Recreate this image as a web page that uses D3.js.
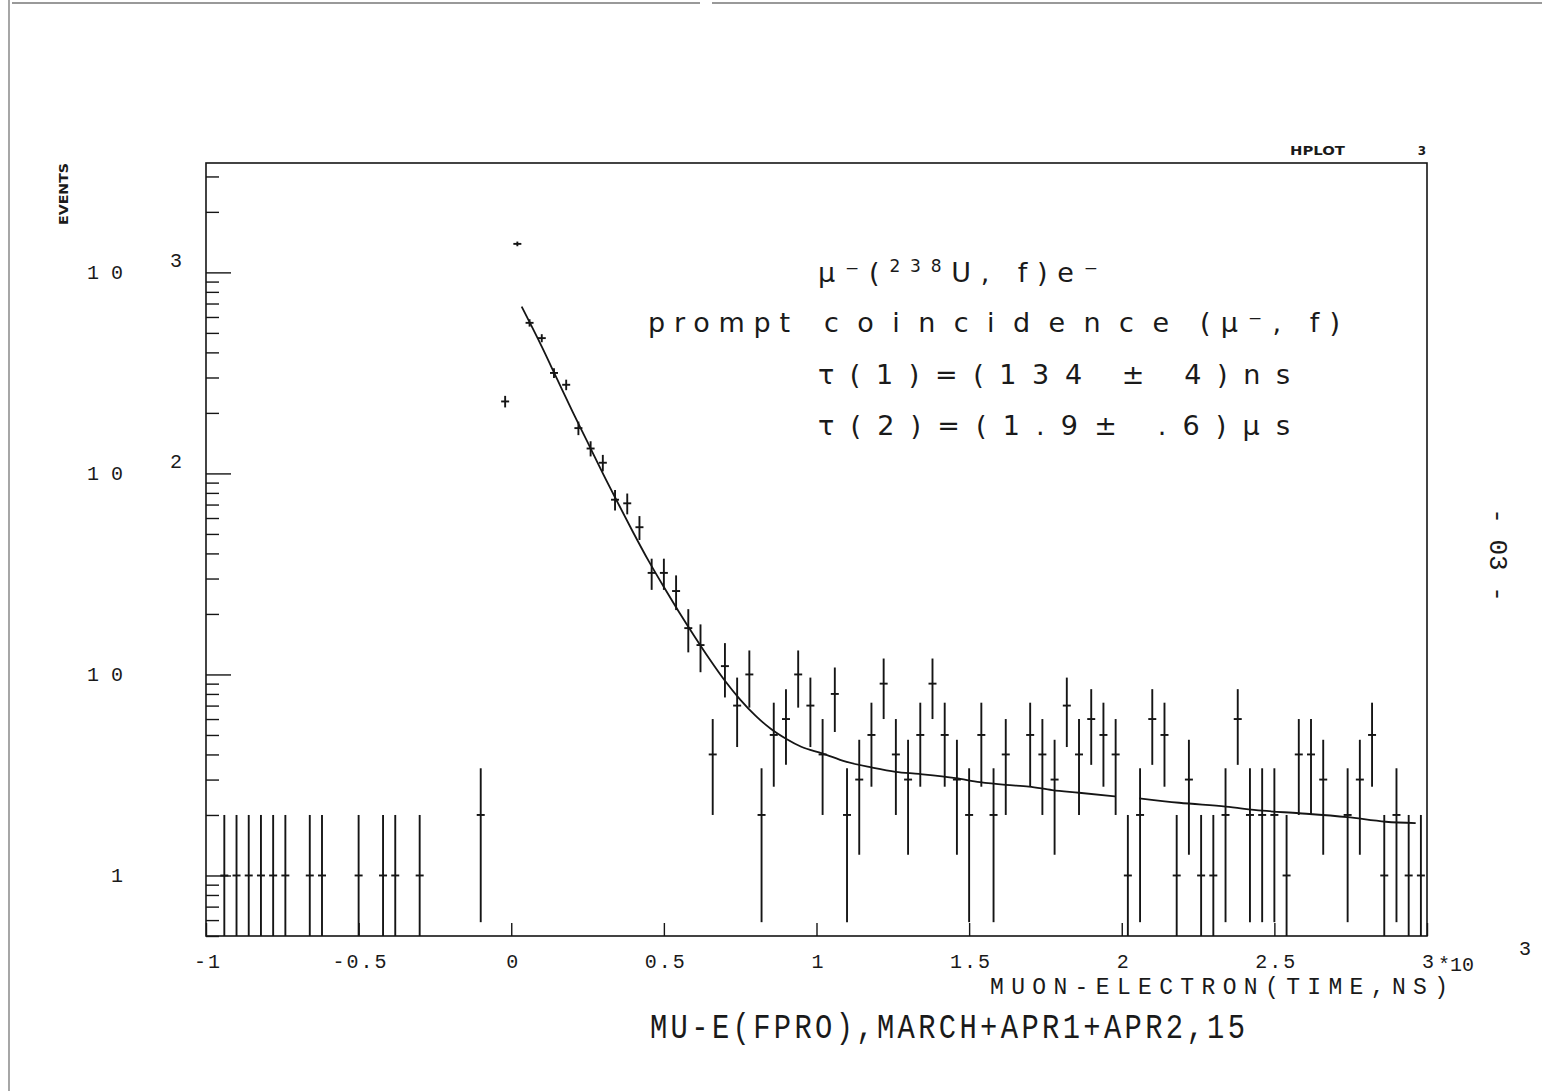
<!DOCTYPE html>
<html>
<head>
<meta charset="utf-8">
<script src="https://cdn.jsdelivr.net/npm/d3@7"></script>
<style>
  body { margin: 0; background: #fff; }
  text { fill: #1a1a1a; }
</style>
</head>
<body>
<svg id="chart" width="1542" height="1091"></svg>
<script>
// histogram bins: 100 bins of 0.04 (x10^3 ns) starting at -1
const binStart = -1;
const binWidth = 0.04;
const counts = [
  0, 1, 1, 1, 1, 1, 1, 0, 1, 1,
  0, 0, 1, 0, 1, 1, 0, 1, 0, 0,
  0, 0, 2, 0, 228, 1386, 561, 471, 316, 276,
  168, 133, 113, 74, 71, 54, 32, 32, 26, 17,
  14, 4, 11, 7, 10, 2, 5, 6, 10, 7,
  4, 8, 2, 3, 5, 9, 4, 3, 5, 9,
  5, 3, 2, 5, 2, 4, 0, 5, 4, 3,
  7, 4, 6, 5, 4, 1, 2, 6, 5, 1,
  3, 1, 1, 2, 6, 2, 2, 2, 1, 4,
  4, 3, 0, 2, 3, 5, 1, 2, 1, 1
];

// fitted curve (null = break in the drawn line)
const fitT = [0.034, 0.10, 0.15, 0.20, 0.25, 0.30, 0.35, 0.40, 0.45, 0.50,
  0.55, 0.60, 0.65, 0.70, 0.75, 0.80, 0.85, 0.90, 0.95, 1.019,
  1.096, 1.183, 1.259, 1.336, 1.456, 1.535, 1.620, 1.696, 1.772, 1.860,
  1.980, 2.015, 2.057, 2.188, 2.341, 2.460, 2.581, 2.739, 2.865, 2.963];
const fitN = [676, 427, 295, 204, 143, 100, 71, 50.7, 36.7, 27.2,
  20.4, 15.5, 11.9, 9.3, 7.5, 6.24, 5.37, 4.79, 4.37, 4.05,
  3.68, 3.44, 3.28, 3.20, 3.05, 2.91, 2.82, 2.77, 2.66, 2.58,
  2.47, null, 2.42, 2.30, 2.20, 2.10, 2.04, 1.95, 1.85, 1.82];

const xTickValues = [-1, -0.5, 0, 0.5, 1, 1.5, 2, 2.5, 3];
const xTickLabels = ["-1", "-0.5", "0", "0.5", "1", "1.5", "2", "2.5", "3"];
const yMajor = [1, 10, 100, 1000];
const yMajorBase = ["1", "1 0", "1 0", "1 0"];
const yMajorExp = ["", "", "2", "3"];

const svg = d3.select("#chart");
const ink = "#151515";

const plotL = 206, plotR = 1427, plotT = 163, plotB = 936;
const x = d3.scaleLinear().domain([-1, 3]).range([plotL, plotR]);
const y = d3.scaleLog().domain([0.5, 3500]).range([plotB, plotT]);

// page edges of the scanned sheet
svg.append("line").attr("x1", 9).attr("x2", 9).attr("y1", 0).attr("y2", 1091)
  .attr("stroke", "#777").attr("stroke-width", 1.3);
svg.append("line").attr("x1", 12).attr("x2", 700).attr("y1", 3).attr("y2", 3)
  .attr("stroke", "#777").attr("stroke-width", 1.3);
svg.append("line").attr("x1", 712).attr("x2", 1542).attr("y1", 3).attr("y2", 3)
  .attr("stroke", "#777").attr("stroke-width", 1.3);

// frame
svg.append("rect")
  .attr("x", plotL).attr("y", plotT)
  .attr("width", plotR - plotL).attr("height", plotB - plotT)
  .attr("fill", "none").attr("stroke", ink).attr("stroke-width", 1.6);

// y ticks (inside, pointing right)
const yMinor = [];
[0.1, 1, 10, 100, 1000].forEach(d => {
  for (let m = 2; m <= 9; m++) {
    const v = d * m;
    if (v >= 0.5 && v <= 3500) yMinor.push(v);
  }
});
const yAxisMinor = svg.append("g").attr("transform", `translate(${plotL},0)`)
  .call(d3.axisLeft(y).tickValues(yMinor).tickSize(-13).tickFormat(""));
const yAxisMajor = svg.append("g").attr("transform", `translate(${plotL},0)`)
  .call(d3.axisLeft(y).tickValues(yMajor).tickSize(-25).tickFormat(""));
[yAxisMinor, yAxisMajor].forEach(g => {
  g.select(".domain").remove();
  g.selectAll("line").attr("stroke", ink).attr("stroke-width", 1.4);
});

// x ticks (inside, pointing up)
const xAxis = svg.append("g").attr("transform", `translate(0,${plotB})`)
  .call(d3.axisBottom(x).tickValues(xTickValues).tickSize(-13).tickFormat(""));
xAxis.select(".domain").remove();
xAxis.selectAll("line").attr("stroke", ink).attr("stroke-width", 1.4);

const mono = "'Liberation Mono', 'DejaVu Sans Mono', monospace";

// y labels
svg.append("g").selectAll("text").data(yMajor).join("text")
  .attr("x", 123).attr("y", d => y(d) + 7)
  .attr("text-anchor", "end")
  .style("font-family", mono).style("font-size", "20px")
  .text((d, i) => yMajorBase[i]);
svg.append("g").selectAll("text").data(yMajor).join("text")
  .attr("x", 176).attr("y", d => y(d) - 5)
  .attr("text-anchor", "middle")
  .style("font-family", mono).style("font-size", "20px")
  .text((d, i) => yMajorExp[i]);

// x labels
svg.append("g").selectAll("text").data(xTickValues).join("text")
  .attr("x", d => x(d) + 2).attr("y", 968)
  .attr("text-anchor", "middle")
  .style("font-family", mono).style("font-size", "20px")
  .style("letter-spacing", "2px")
  .text((d, i) => xTickLabels[i]);
svg.append("text").attr("x", 1438).attr("y", 971)
  .style("font-family", mono).style("font-size", "20px")
  .text("*10");
svg.append("text").attr("x", 1525).attr("y", 955).attr("text-anchor", "middle")
  .style("font-family", mono).style("font-size", "20px").text("3");

// condensed, spaced captions
function caption(xs, ys, len, size, squeeze, str) {
  svg.append("g").attr("transform", `translate(${xs},${ys}) scale(${squeeze},1)`)
    .append("text").attr("x", 0).attr("y", 0)
    .attr("textLength", len / squeeze).attr("lengthAdjust", "spacing")
    .style("font-family", mono).style("font-size", size + "px")
    .text(str);
}
caption(990, 994, 458, 23, 1, "MUON-ELECTRON(TIME,NS)");
caption(650, 1038, 595, 36, 0.8, "MU-E(FPRO),MARCH+APR1+APR2,15");

// y title
svg.append("text")
  .attr("transform", "translate(68,194) rotate(-90)")
  .attr("text-anchor", "middle")
  .attr("textLength", 62).attr("lengthAdjust", "spacingAndGlyphs")
  .style("font-family", "'DejaVu Sans'").style("font-size", "13px").style("font-weight", "bold")
  .text("EVENTS");

// HPLOT tag
svg.append("text").attr("x", 1290).attr("y", 155)
  .attr("textLength", 55).attr("lengthAdjust", "spacingAndGlyphs")
  .style("font-family", "'DejaVu Sans'").style("font-size", "12px").style("font-weight", "bold")
  .text("HPLOT");
svg.append("text").attr("x", 1422).attr("y", 155).attr("text-anchor", "middle")
  .style("font-family", "'DejaVu Sans'").style("font-size", "12px").style("font-weight", "bold")
  .text("3");

// page number on the right margin
svg.append("text")
  .attr("transform", "translate(1490,555) rotate(90)")
  .attr("text-anchor", "middle")
  .style("font-family", mono).style("font-size", "26px")
  .text("- 03 -");

// annotation block
const sans = "'DejaVu Sans', sans-serif";
function note(xs, ys, len, parts) {
  const t = svg.append("text").attr("x", xs).attr("y", ys)
    .attr("textLength", len).attr("lengthAdjust", "spacing")
    .style("font-family", sans).style("font-size", "27px");
  parts.forEach(p => {
    const s = t.append("tspan").text(p[0]);
    if (p[1]) s.attr("dy", p[1]).style("font-size", "17px");
    if (p[2]) s.attr("dy", p[2]);
  });
}
note(818, 282, 280, [["μ"], ["⁻"], ["("], ["238", -10], ["U, f)e", 0, 10], ["⁻"]]);
note(648, 332, 142, [["prompt"]]);
note(824, 332, 345, [["coincidence"]]);
note(1200, 332, 140, [["(μ"], ["⁻"], [", f)"]]);
note(818, 384, 472, [["τ(1)=(134 ± 4)ns"]]);
note(818, 435, 472, [["τ(2)=(1.9± .6)μs"]]);

// histogram points with sqrt(N) error bars
const bins = counts.map((n, i) => ({ t: binStart + binWidth * (i + 0.5), n: n }))
  .filter(d => d.n > 0);
const pts = svg.append("g").attr("stroke", ink).attr("stroke-width", 1.9);
pts.selectAll("line.err").data(bins).join("line").attr("class", "err")
  .attr("x1", d => x(d.t)).attr("x2", d => x(d.t))
  .attr("y1", d => y(Math.max(d.n - Math.sqrt(d.n), 0.5)))
  .attr("y2", d => y(Math.min(d.n + Math.sqrt(d.n), 3500)));
pts.selectAll("line.bar").data(bins).join("line").attr("class", "bar")
  .attr("x1", d => x(d.t) - 4).attr("x2", d => x(d.t) + 4)
  .attr("y1", d => y(d.n)).attr("y2", d => y(d.n));

// fit curve
const fit = fitT.map((t, i) => ({ t: t, n: fitN[i] }));
svg.append("path").datum(fit)
  .attr("fill", "none").attr("stroke", ink).attr("stroke-width", 1.8)
  .attr("d", d3.line().defined(d => d.n != null)
    .x(d => x(d.t)).y(d => y(d.n)).curve(d3.curveMonotoneX));
</script>
</body>
</html>
